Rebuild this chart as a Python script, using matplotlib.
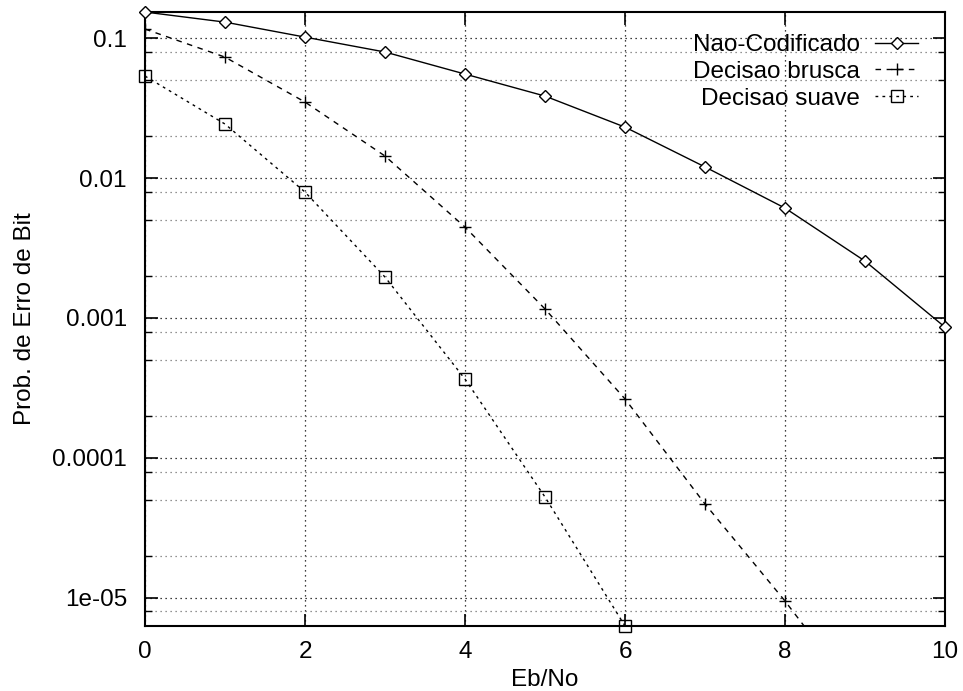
import matplotlib
matplotlib.use("Agg")
import matplotlib.pyplot as plt
from matplotlib.ticker import LogLocator, FixedLocator, FuncFormatter, NullFormatter

plt.rcParams['font.family'] = ['Liberation Sans', 'DejaVu Sans']

ebno_unc = [0, 1, 2, 3, 4, 5, 6, 7, 8, 9, 10]
p_unc = [0.1535, 0.130, 0.1016, 0.0795, 0.0553, 0.0385, 0.0231, 0.0120, 0.0061, 0.00255, 0.00086]

ebno_hard = [0, 1, 2, 3, 4, 5, 6, 7, 8, 9]
p_hard = [0.116, 0.0731, 0.0349, 0.01436, 0.00446, 0.00116, 0.000264, 4.69e-5, 9.5e-6, 1.7e-6]

ebno_soft = [0, 1, 2, 3, 4, 5, 6]
p_soft = [0.0535, 0.0243, 0.00794, 0.00196, 0.000366, 5.26e-5, 6.3e-6]

labels = ["Nao-Codificado", "Decisao brusca", "Decisao suave"]
xticks = [0, 2, 4, 6, 8, 10]
yticks = [1e-5, 1e-4, 1e-3, 1e-2, 1e-1]

FS = 17.5

fig = plt.figure(figsize=(9.63, 6.91), dpi=100)
ax = fig.add_axes([0.1506, 0.0941, 0.9813 - 0.1506, 0.9826 - 0.0941])
ax.set_yscale('log')

ax.plot(ebno_unc, p_unc, color='black', lw=1.0, ls='-', marker='D', ms=6,
        mfc='white', mec='black', mew=1.0, label=labels[0], clip_on=False, zorder=3)
ax.plot(ebno_hard, p_hard, color='black', lw=1.0, ls=(0, (4, 4)), marker='+', ms=9,
        mew=1.0, label=labels[1], zorder=3)
ax.plot(ebno_soft, p_soft, color='black', lw=1.0, ls=(0, (2, 3)), marker='s', ms=8,
        mfc='none', mec='black', mew=1.0, label=labels[2], clip_on=False, zorder=3)

ax.set_xlim(0, 10)
ax.set_ylim(6.3e-6, 0.1535)

ax.xaxis.set_major_locator(FixedLocator(xticks))
ax.yaxis.set_major_locator(FixedLocator(yticks))
ax.yaxis.set_minor_locator(LogLocator(base=10, subs=[2, 5, 8], numticks=20))
ax.yaxis.set_minor_formatter(NullFormatter())
ax.yaxis.set_major_formatter(FuncFormatter(lambda v, p: '%g' % v))
ax.xaxis.set_major_formatter(FuncFormatter(lambda v, p: '%g' % v))

ax.tick_params(which='major', direction='in', length=9, width=1.2, top=True, right=True,
               labelsize=FS)
ax.tick_params(axis='y', which='major', pad=13)
ax.tick_params(axis='x', which='major', pad=11)
ax.tick_params(which='minor', direction='in', length=5, width=1.0, top=True, right=True)
ax.tick_params(axis='x', which='minor', bottom=False, top=False)

ax.grid(True, which='major', color='black', ls=(0, (1, 3)), lw=0.9)
ax.grid(True, which='minor', axis='y', color='#707070', ls=(0, (1, 3)), lw=0.9)
ax.set_axisbelow(True)

for s in ax.spines.values():
    s.set_linewidth(1.5)

ax.set_xlabel('Eb/No', fontsize=FS, labelpad=4)
ax.set_ylabel('Prob. de Erro de Bit', fontsize=FS, labelpad=12)

leg = ax.legend(loc='upper right', bbox_to_anchor=(0.979, 0.98), frameon=False,
                markerfirst=False, fontsize=FS, handlelength=1.8, labelspacing=0.2,
                handletextpad=0.6, borderaxespad=0.0)

fig.savefig('out.png', dpi=100)
